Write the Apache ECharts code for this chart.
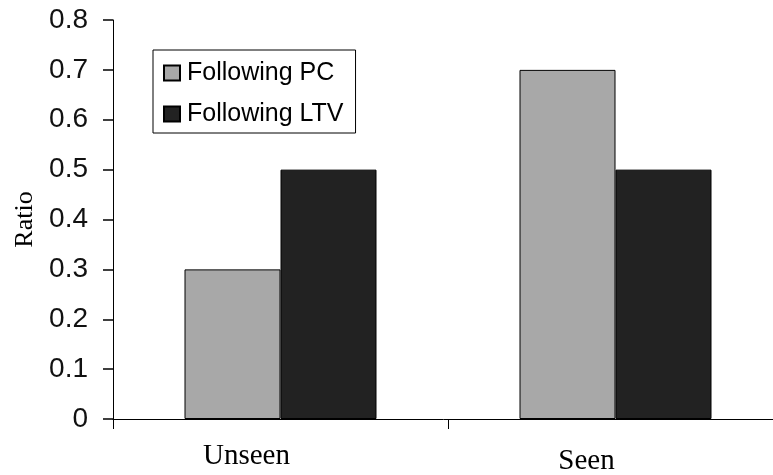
<!DOCTYPE html>
<html>
<head>
<meta charset="utf-8">
<script src="https://cdn.jsdelivr.net/npm/echarts@6/dist/echarts.min.js"></script>
<style>
html,body{margin:0;padding:0;background:#fff;}
#chart{width:773px;height:475px;}
</style>
</head>
<body>
<div id="chart"></div>
<script>
var categories = ['Unseen', 'Seen'];
var seriesNames = ['Following PC', 'Following LTV'];
var followingPC = [0.3, 0.7];
var followingLTV = [0.5, 0.5];
var yTicks = [0, 0.1, 0.2, 0.3, 0.4, 0.5, 0.6, 0.7, 0.8];

var chart = echarts.init(document.getElementById('chart'), null, {renderer: 'canvas'});
var richKeys = ['u', 's'];
chart.setOption({
  animation: false,
  backgroundColor: '#ffffff',
  grid: {left: 113, right: -10, top: 20, bottom: 56, containLabel: false, outerBoundsMode: 'none'},
  legend: {
    orient: 'vertical',
    left: 153,
    top: 50,
    padding: [8, 12, 4, 10],
    itemWidth: 16,
    itemHeight: 15,
    itemGap: 11,
    icon: 'rect',
    borderColor: '#000',
    borderWidth: 1,
    borderRadius: 0,
    backgroundColor: '#fff',
    data: seriesNames,
    textStyle: {fontFamily: 'Liberation Sans, Arial, sans-serif', fontSize: 25, color: '#000', lineHeight: 30, padding: [0, 0, 0, 2]}
  },
  xAxis: {
    type: 'category',
    data: categories,
    axisLine: {lineStyle: {color: '#000', width: 1}},
    axisTick: {show: true, inside: false, length: 10, alignWithLabel: false, lineStyle: {color: '#000', width: 1}},
    axisLabel: {
      margin: 23,
      formatter: function (v, i) { return '{' + richKeys[i] + '|' + v + '}'; },
      rich: {
        u: {fontFamily: 'Liberation Serif, Times New Roman, serif', fontSize: 29, color: '#000', padding: [0, 68, 0, 0]},
        s: {fontFamily: 'Liberation Serif, Times New Roman, serif', fontSize: 29, color: '#000', padding: [5, 58, 0, 0]}
      }
    },
    splitLine: {show: false}
  },
  yAxis: {
    type: 'value',
    min: yTicks[0],
    max: yTicks[yTicks.length - 1],
    interval: 0.1,
    name: 'Ratio',
    nameLocation: 'middle',
    nameRotate: 90,
    nameGap: 75,
    nameMoveOverlap: false,
    nameTextStyle: {fontFamily: 'Liberation Serif, Times New Roman, serif', fontSize: 26, color: '#000'},
    axisLine: {show: true, lineStyle: {color: '#000', width: 1}},
    axisTick: {show: true, inside: false, length: 10, lineStyle: {color: '#000', width: 1.5}},
    axisLabel: {
      show: true,
      margin: 25,
      fontFamily: 'Liberation Sans, Arial, sans-serif',
      fontSize: 28,
      color: '#111',
      formatter: function (v) { return String(Math.round(v * 10) / 10); }
    },
    splitLine: {show: false}
  },
  series: [
    {
      name: seriesNames[0],
      type: 'bar',
      data: followingPC,
      barWidth: 96,
      barGap: '0%',
      itemStyle: {color: '#a8a8a8', borderColor: '#000', borderWidth: 1, borderRadius: 0}
    },
    {
      name: seriesNames[1],
      type: 'bar',
      data: followingLTV,
      barWidth: 96,
      barGap: '0%',
      itemStyle: {color: '#222222', borderColor: '#000', borderWidth: 1, borderRadius: 0}
    }
  ]
});
</script>
</body>
</html>
